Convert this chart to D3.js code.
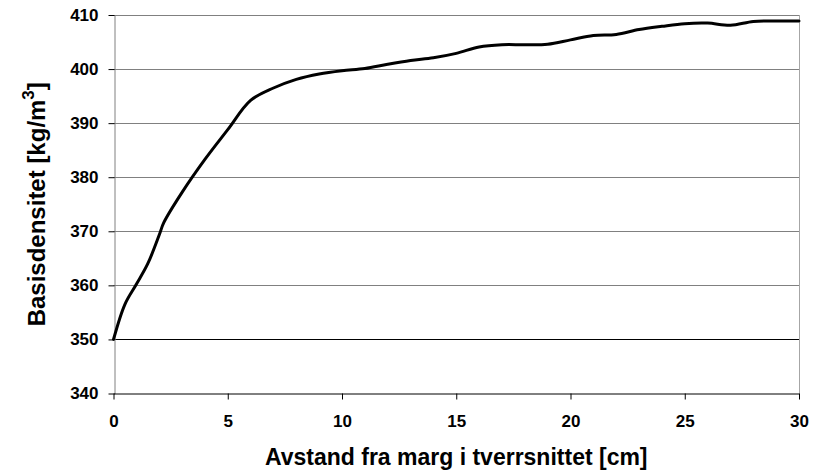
<!DOCTYPE html>
<html>
<head>
<meta charset="utf-8">
<script src="https://cdn.jsdelivr.net/npm/d3@7"></script>
<style>
  html, body { margin: 0; padding: 0; background: #fff; }
  svg { display: block; font-family: "Liberation Sans", Arial, sans-serif; }
</style>
</head>
<body>
<svg id="chart" width="818" height="474"></svg>
<script>
// Basic density across the stem cross-section, from the pith outward
const distanceCm = [0, 0.5, 1, 1.5, 2, 2.2, 3, 4, 5, 6, 7, 8, 9, 10, 11, 12, 13, 14, 15,
                    16, 17, 18, 19, 20, 21, 22, 23, 24, 25, 26, 27, 28, 29, 30];
const densityKgM3 = [350, 356.5, 360.2, 364, 369.3, 371.6, 377.2, 383.3, 388.8, 394.2,
                     396.5, 398.1, 399.1, 399.7, 400.1, 400.9, 401.6, 402.1, 402.9,
                     404.1, 404.5, 404.5, 404.6, 405.4, 406.2, 406.4, 407.3, 407.9,
                     408.4, 408.5, 408.1, 408.8, 408.9, 408.9];
const xTicks = [0, 5, 10, 15, 20, 25, 30];
const yTicks = [340, 350, 360, 370, 380, 390, 400, 410];
const xTitle = "Avstand fra marg i tverrsnittet [cm]";
const yTitle = "Basisdensitet [kg/m";

const svg = d3.select("#chart");
const plot = { left: 113.5, right: 799, top: 15, bottom: 393.5 };

const x = d3.scaleLinear().domain([0, 30]).range([plot.left, plot.right]);
const y = d3.scaleLinear().domain([340, 410]).range([plot.bottom, plot.top]);

// horizontal gridlines
svg.append("g")
  .selectAll("line")
  .data(yTicks.filter(d => d > 340))
  .join("line")
  .attr("x1", plot.left).attr("x2", plot.right)
  .attr("y1", d => Math.round(y(d)) + 0.5).attr("y2", d => Math.round(y(d)) + 0.5)
  .attr("stroke", d => d === 350 ? "#000" : "#808080")
  .attr("stroke-width", 1);

// right border of the plot area
svg.append("line")
  .attr("x1", Math.round(plot.right) + 0.5).attr("x2", Math.round(plot.right) + 0.5)
  .attr("y1", plot.top).attr("y2", plot.bottom)
  .attr("stroke", "#a6a6a6");

// y axis
const yAxis = svg.append("g")
  .attr("transform", `translate(${Math.round(plot.left) + 0.5},0)`)
  .call(d3.axisLeft(y).tickValues(yTicks).tickSize(6).tickPadding(10).tickSizeOuter(0));
yAxis.select(".domain").attr("stroke", "#808080");
yAxis.selectAll(".tick line").attr("stroke", "#000");
yAxis.selectAll(".tick text")
  .attr("font-size", 17).attr("font-weight", "bold").attr("fill", "#000")
  .attr("font-family", "Liberation Sans, Arial, sans-serif");

// x axis
const xAxis = svg.append("g")
  .attr("transform", `translate(0,${Math.round(plot.bottom) - 0.5})`)
  .call(d3.axisBottom(x).tickValues(xTicks).tickSize(6).tickPadding(15).tickSizeOuter(0));
xAxis.select(".domain").attr("stroke", "#000");
xAxis.selectAll(".tick line").attr("stroke", "#000");
xAxis.selectAll(".tick text")
  .attr("font-size", 17).attr("font-weight", "bold").attr("fill", "#000")
  .attr("font-family", "Liberation Sans, Arial, sans-serif");

// density curve
const line = d3.line()
  .x((d, i) => x(distanceCm[i]))
  .y(d => y(d))
  .curve(d3.curveCatmullRom.alpha(0.5));
svg.append("path")
  .datum(densityKgM3)
  .attr("d", line)
  .attr("fill", "none")
  .attr("stroke", "#000")
  .attr("stroke-width", 3)
  .attr("stroke-linejoin", "round")
  .attr("stroke-linecap", "round");

// axis titles
svg.append("text")
  .attr("x", (plot.left + plot.right) / 2)
  .attr("y", 465)
  .attr("text-anchor", "middle")
  .attr("font-size", 23)
  .attr("font-weight", "bold")
  .text(xTitle);

const yt = svg.append("text")
  .attr("transform", `translate(45,${(plot.top + plot.bottom) / 2}) rotate(-90)`)
  .attr("text-anchor", "middle")
  .attr("font-size", 24)
  .attr("font-weight", "bold");
yt.append("tspan").text(yTitle);
yt.append("tspan").attr("dy", -11).attr("font-size", 17).text("3");
yt.append("tspan").attr("dy", 11).text("]");
</script>
</body>
</html>
